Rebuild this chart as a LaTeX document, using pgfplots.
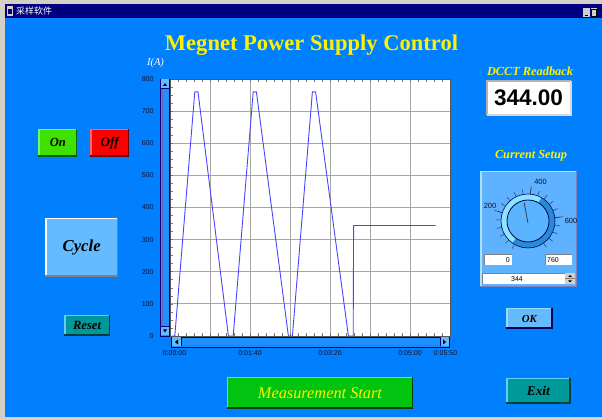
\documentclass[border=0pt]{standalone}
\usepackage{pgfplots}
\pgfplotsset{compat=1.18}
\usepackage{fontspec}
\setmainfont{Liberation Serif}
\setsansfont{Liberation Sans}
\newfontfamily\cjk{Noto Sans CJK SC}
\usepackage{graphicx}
\definecolor{bgblue}{RGB}{0,128,255}
\definecolor{navy}{RGB}{0,0,128}
\definecolor{wgray}{RGB}{212,208,200}
\definecolor{ongreen}{RGB}{64,224,0}
\definecolor{offred}{RGB}{255,0,0}
\definecolor{lblue}{RGB}{102,187,255}
\definecolor{teal2}{RGB}{0,153,153}
\definecolor{msgreen}{RGB}{0,196,16}
\definecolor{ticktext}{RGB}{16,16,48}
\definecolor{linecol}{RGB}{70,70,255}
\definecolor{panel}{RGB}{95,178,255}
\definecolor{panelb}{RGB}{170,225,255}
\definecolor{ringl}{RGB}{140,228,255}
\definecolor{ringd}{RGB}{40,140,210}
\definecolor{inner}{RGB}{90,180,255}
\definecolor{track}{RGB}{30,144,255}
\newcommand{\btn}[8]{%
  \fill[#5] (#1,#2) rectangle (#3,#4);
  \draw[#6,line width=1.5pt] ({#1+0.75},{#4}) -- ({#1+0.75},{#2+0.75}) -- ({#3},{#2+0.75});
  \draw[#7,line width=1.5pt] ({#1},{#4-0.75}) -- ({#3-0.75},{#4-0.75}) -- ({#3-0.75},{#2});
  \node[inner sep=0pt] at ({(#1+#3)/2},{(#2+#4)/2}) {#8};
}
\newcommand{\lab}[2]{\resizebox{#1}{!}{\bfseries\itshape #2}}
\begin{document}
\begin{tikzpicture}
\path[use as bounding box] (0,0) rectangle (602pt,419pt);
\begin{scope}[yshift=419pt,x=1pt,y=-1pt]
  \fill[wgray] (0,0) rectangle (602,419);
  \fill[bgblue] (5,18.5) rectangle (602,417);
  \fill[navy] (5,4) rectangle (602,18.5);
  \fill[wgray] (6.5,6) rectangle (12.5,16);
  \fill[navy] (7.5,9) rectangle (11.5,14);
  \node[anchor=west,text=white,inner sep=0pt] at (16,11.5) {\cjk\fontsize{9}{10}\selectfont 采样软件};
  \fill[wgray] (583,8) rectangle (589.5,17);
  \fill[wgray] (590.5,8) rectangle (597,17);
  \draw[black,line width=1pt] (584.5,15.5) -- (587.5,15.5);
  \draw[black,line width=0.7pt] (591.5,9.5) rectangle (596,16);
  % title
  \node[text=yellow,inner sep=0pt] at (311.5,45) {\resizebox{293pt}{!}{\bfseries Megnet Power Supply Control}};
  \node[text=white,inner sep=0pt] at (155.5,63) {\resizebox{17pt}{!}{\itshape I(A)}};
  % left buttons
  \btn{38.3}{129}{77.3}{156.7}{ongreen}{green!60!white}{green!40!black}{\lab{16pt}{On}}
  \btn{90}{129}{129.3}{156.7}{offred}{red!60!white}{red!45!black}{\lab{18pt}{Off}}
  \btn{45}{218}{118.3}{277}{lblue}{white}{gray}{\resizebox{38pt}{!}{\bfseries\itshape Cycle}}
  \btn{64}{315}{110}{335.7}{teal2}{cyan!60!white}{teal2!40!black}{\lab{28pt}{Reset}}
  % bottom buttons
  \btn{226.7}{377}{413.3}{409}{msgreen}{green!70!white}{green!25!black}{\resizebox{124pt}{!}{\color{yellow}\itshape Measurement Start}}
  \btn{506}{377.7}{570.7}{404}{teal2}{cyan!60!white}{teal2!40!black}{\lab{23pt}{Exit}}
  \btn{506}{308}{552.7}{329}{lblue}{cyan!40!white}{navy!70!black}{\lab{15pt}{OK}}
  % right panel
  \node[text=yellow,inner sep=0pt] at (530,71) {\lab{86pt}{DCCT Readback}};
  \fill[white] (487,81) rectangle (571,115);
  \draw[gray!60,line width=1.2pt] (487,115) -- (487,81) -- (571,81);
  \draw[gray!30,line width=1.2pt] (487,115) -- (571,115) -- (571,81);
  \node[inner sep=0pt] at (528.5,97.5) {\resizebox{69pt}{!}{\sffamily\bfseries 344.00}};
  \node[text=yellow,inner sep=0pt] at (531,156) {\lab{72pt}{Current Setup}};
  \fill[panel] (480,171) rectangle (577,287);
  \draw[panelb,line width=1.5pt] (480.75,287) -- (480.75,171.75) -- (577,171.75);
  \draw[navy!50,line width=1pt] (480,286.5) -- (576.5,286.5) -- (576.5,171);
  \fill[white] (484,254) rectangle (512,265);
  \draw[gray,line width=0.8pt] (484,265) -- (484,254) -- (512,254);
  \node[anchor=east,inner sep=0pt] at (510,259.7) {\sffamily\fontsize{7}{8}\selectfont 0};
  \fill[white] (545,254) rectangle (572,265);
  \draw[gray,line width=0.8pt] (545,265) -- (545,254) -- (572,254);
  \node[anchor=west,inner sep=0pt] at (547,259.7) {\sffamily\fontsize{7}{8}\selectfont 760};
  \fill[white] (482,273) rectangle (565,284.3);
  \draw[gray,line width=0.8pt] (482,284.3) -- (482,273) -- (565,273);
  \node[inner sep=0pt] at (517,278.8) {\sffamily\fontsize{7}{8}\selectfont 344};
  \fill[wgray] (565,273) rectangle (575,284.3);
  \draw[gray,line width=0.5pt] (565,278.6) -- (575,278.6);
  \fill[black] (568,277) -- (572,277) -- (570,275) -- cycle;
  \fill[black] (568,280.3) -- (572,280.3) -- (570,282.3) -- cycle;
\end{scope}
% dial
\begin{scope}[x=1pt,y=1pt,shift={(528pt,198pt)}]
  \foreach \v in {0,40,...,760} {
    \draw[black!80,line width=0.45pt] ({240-\v*0.388158}:27pt) -- ({240-\v*0.388158}:32pt);
  }
  \foreach \v in {200,400,600} {
    \draw[black!80,line width=0.5pt] ({240-\v*0.388158}:27pt) -- ({240-\v*0.388158}:35pt);
  }
  \fill[ringl] (0,0) circle (27pt);
  \fill[ringd] (60:27pt) arc (60:-125:27pt) -- (-125:21pt) arc (-125:60:21pt) -- cycle;
  \draw[navy,line width=0.6pt] (0,0) circle (27pt);
  \fill[inner] (0,0) circle (21pt);
  \draw[navy!70!black,line width=0.8pt] (0,0) circle (21pt);
  \draw[black!85,line width=0.6pt] (0,-2pt) -- (102:19pt);
  \node[inner sep=0pt,text=ticktext] at (-38pt,15pt) {\sffamily\fontsize{7.5}{8}\selectfont 200};
  \node[inner sep=0pt,text=ticktext] at (12.5pt,39.5pt) {\sffamily\fontsize{7.5}{8}\selectfont 400};
  \node[inner sep=0pt,text=ticktext] at (43pt,0pt) {\sffamily\fontsize{7.5}{8}\selectfont 600};
\end{scope}
\begin{axis}[
  at={(170pt,83pt)}, anchor=south west,
  scale only axis, width=280pt, height=257pt,
  xmin=0, xmax=350, ymin=0, ymax=800,
  axis background/.style={fill=white},
  xtick={0,50,...,350},
  xticklabels={\hspace*{9pt}0:00:00,,0:01:40,,0:03:20,,0:05:00,0:05:50\hspace*{9pt}},
  minor x tick num=4,
  ytick={0,100,...,800},
  minor y tick num=3,
  ytick pos=left,
  tick align=inside,
  major tick length=3pt, minor tick length=3pt,
  tick style={black!55,line width=0.6pt},
  grid=major,
  major grid style={gray!70,line width=0.8pt},
  axis line style={draw=black!65,line width=0.8pt},
  /pgf/number format/assume math mode=true,
  xticklabel style={font=\sffamily\fontsize{7}{8}\selectfont,text=ticktext,yshift=-11.5pt},
  yticklabel style={font=\sffamily\fontsize{7}{8}\selectfont,text=ticktext,xshift=-13pt},
]
\addplot[draw=linecol,line width=0.9pt,line join=round] coordinates {
(2,0)(6,0)(31,760)(35,760)(73,0)(79,0)(104,760)(108,760)(148,0)(153,0)(178,760)(182,760)(223,0)(229,0)(229.5,344)(332,344)
};
\end{axis}
\begin{scope}[yshift=419pt,x=1pt,y=-1pt]
  % y scrollbar
  \fill[track] (160.5,79) rectangle (169.5,336);
  \draw[navy,line width=0.8pt] (160.5,79) rectangle (169.5,336);
  \draw[navy!60,line width=0.6pt] (162.5,89) -- (162.5,326);
  \fill[lblue] (161,79.5) rectangle (169,88.5);
  \draw[navy,line width=0.6pt] (161,88.5) -- (169,88.5);
  \fill[black] (163,86) -- (167,86) -- (165,83) -- cycle;
  \fill[lblue] (161,326.5) rectangle (169,335.5);
  \draw[navy,line width=0.6pt] (161,326.5) -- (169,326.5);
  \fill[black] (163,329.5) -- (167,329.5) -- (165,332.5) -- cycle;
  % x scrollbar
  \fill[track] (171.5,337) rectangle (449,347);
  \draw[navy,line width=0.8pt] (171.5,337) rectangle (449,347);
  \draw[navy!60,line width=0.6pt] (182,345) -- (439.5,345);
  \fill[lblue] (172,337.5) rectangle (181,346.5);
  \draw[navy,line width=0.6pt] (181,337.5) -- (181,346.5);
  \fill[black] (178,339.5) -- (178,344.5) -- (175,342) -- cycle;
  \fill[lblue] (440,337.5) rectangle (448.5,346.5);
  \draw[navy,line width=0.6pt] (440,337.5) -- (440,346.5);
  \fill[black] (443,339.5) -- (443,344.5) -- (446,342) -- cycle;
\end{scope}
\end{tikzpicture}
\end{document}
